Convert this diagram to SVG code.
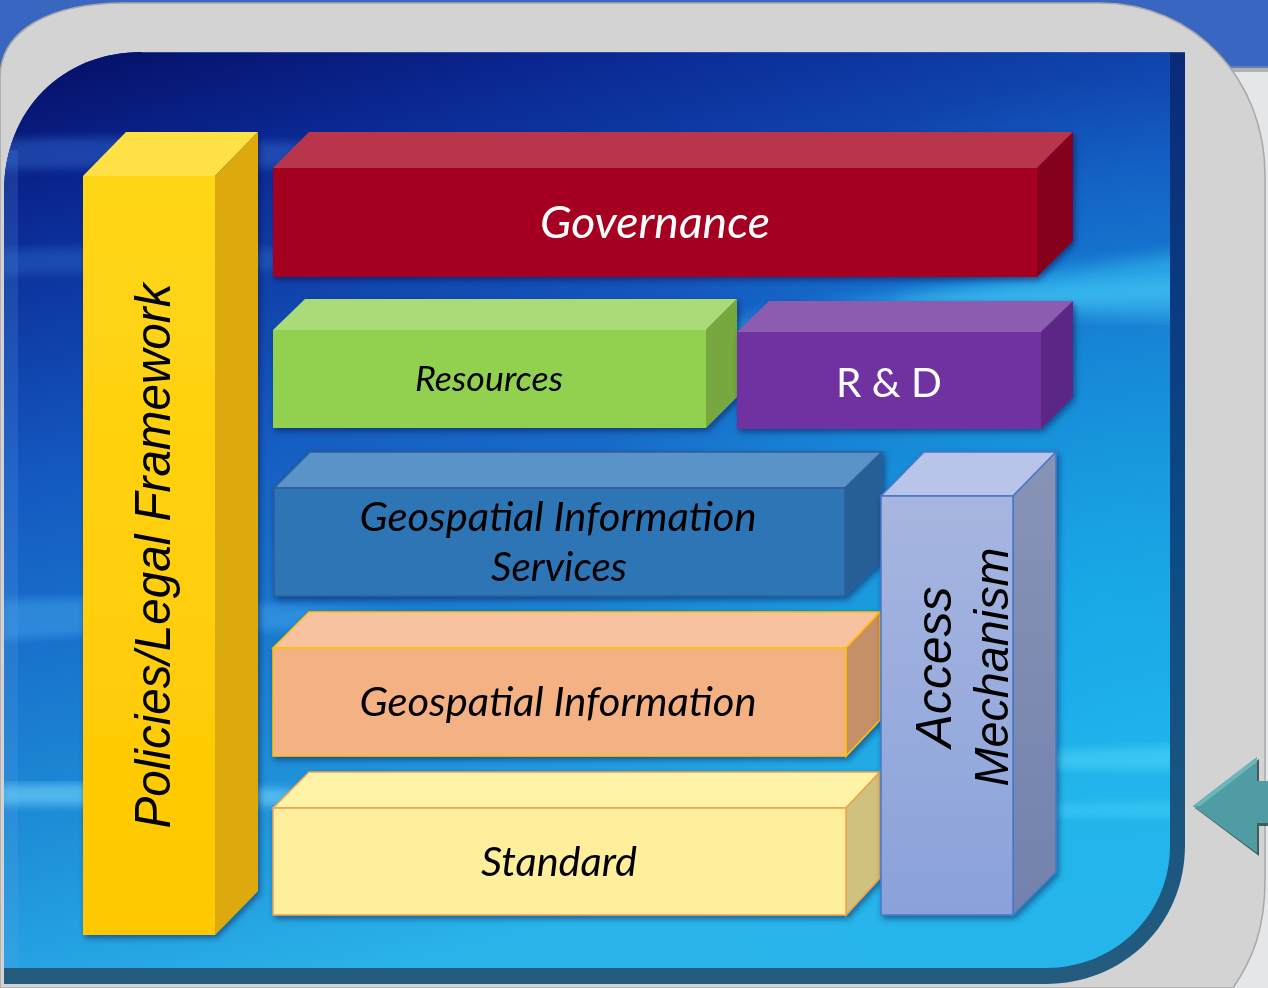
<svg xmlns="http://www.w3.org/2000/svg" width="1268" height="988" viewBox="0 0 1268 988">
<style>
.cal{font-family:Lato,"Open Sans","Noto Sans",sans-serif;font-style:italic;text-anchor:middle}
.ari{font-family:"Liberation Sans",Arial,sans-serif;font-style:italic;text-anchor:middle;fill:#000}
.box{filter:url(#shadow)}
</style>
<defs>
<linearGradient id="panelGrad" x1="0" y1="0" x2="0.35" y2="1">
<stop offset="0" stop-color="#050d62"/>
<stop offset="0.15" stop-color="#0a2690"/>
<stop offset="0.42" stop-color="#1458c0"/>
<stop offset="0.72" stop-color="#1c86d4"/>
<stop offset="1" stop-color="#2ab4ea"/>
</linearGradient>
<radialGradient id="rightGlow" cx="1100" cy="600" r="520" gradientUnits="userSpaceOnUse">
<stop offset="0" stop-color="#12b8f0" stop-opacity="0.55"/>
<stop offset="1" stop-color="#12b8f0" stop-opacity="0"/>
</radialGradient>
<linearGradient id="bevelGrad" x1="0" y1="0" x2="0" y2="1">
<stop offset="0" stop-color="#0a2a78"/>
<stop offset="0.5" stop-color="#0b4a86"/>
<stop offset="1" stop-color="#235c7e"/>
</linearGradient>
<linearGradient id="accFront" x1="0" y1="0" x2="0" y2="1">
<stop offset="0" stop-color="#a7b6e0"/>
<stop offset="1" stop-color="#8aa2da"/>
</linearGradient>
<linearGradient id="accSide" x1="0" y1="0" x2="0" y2="1">
<stop offset="0" stop-color="#8894b6"/>
<stop offset="1" stop-color="#7282ae"/>
</linearGradient>
<linearGradient id="yelFront" x1="0" y1="0" x2="0" y2="1">
<stop offset="0" stop-color="#ffd618"/>
<stop offset="1" stop-color="#ffc800"/>
</linearGradient>
<filter id="shadow" x="-10%" y="-10%" width="130%" height="130%">
<feDropShadow dx="2" dy="3" stdDeviation="3" flood-color="#001030" flood-opacity="0.45"/>
</filter>
<filter id="blur8"><feGaussianBlur stdDeviation="8"/></filter>
<filter id="blur4"><feGaussianBlur stdDeviation="4"/></filter>
<clipPath id="panelClip">
<path d="M4,192 C4,110 62,52 142,52 L1170,52 L1170,845 C1170,915 1115,968 1045,968 L4,968 Z"/>
</clipPath>
</defs>

<!-- outer backdrop -->
<rect x="0" y="0" width="1268" height="988" fill="#3866c0"/>
<rect x="1180" y="68" width="88" height="920" fill="#e4e6e8"/>
<rect x="1180" y="66" width="88" height="6" fill="#8a9098" opacity="0.6"/>
<path d="M0,78 C0,30 50,3 125,3 L1100,3 C1195,3 1265,80 1265,175 L1265,880 C1265,930 1252,960 1233,988 L0,988 Z" fill="#d3d3d3" stroke="#a8a8a8" stroke-width="1.5"/>

<!-- main panel -->
<g id="panel">
<path d="M4,192 C4,110 62,52 142,52 L1185,52 L1185,845 C1185,924 1124,984 1045,984 L4,984 Z" fill="url(#bevelGrad)"/>
<path d="M4,192 C4,110 62,52 142,52 L1170,52 L1170,845 C1170,915 1115,968 1045,968 L4,968 Z" fill="url(#panelGrad)"/>
<g clip-path="url(#panelClip)">
<rect x="0" y="0" width="1268" height="988" fill="url(#rightGlow)"/>
<rect x="4" y="150" width="14" height="818" fill="#6aa8f0" opacity="0.18"/>
<path d="M0,140 C200,130 500,150 900,200 C700,180 300,160 0,170 Z" fill="#3a78e0" opacity="0.4" filter="url(#blur4)"/>
<path d="M0,250 C250,240 500,255 800,280 C500,270 250,268 0,275 Z" fill="#3a80e0" opacity="0.3" filter="url(#blur4)"/>
<path d="M700,330 C850,300 1000,280 1200,250 L1200,300 C1050,300 900,320 700,345 Z" fill="#40d8ff" opacity="0.45" filter="url(#blur8)"/>
<path d="M900,300 C1000,292 1100,285 1200,278 L1200,320 C1100,318 1000,310 900,305 Z" fill="#5ae0ff" opacity="0.35" filter="url(#blur8)"/>
<path d="M0,600 C200,595 400,610 700,640 C400,630 200,625 0,640 Z" fill="#4aa8f0" opacity="0.45" filter="url(#blur4)"/>
<path d="M0,785 C150,780 350,790 600,810 C350,805 150,805 0,805 Z" fill="#7adcff" opacity="0.55" filter="url(#blur4)"/>
<path d="M900,760 C1000,752 1100,750 1200,745 L1200,770 C1100,770 1000,768 900,770 Z" fill="#60e0ff" opacity="0.4" filter="url(#blur4)"/>
<path d="M900,810 C1000,805 1100,805 1200,800 L1200,818 C1100,818 1000,815 900,815 Z" fill="#60e0ff" opacity="0.3" filter="url(#blur4)"/>
</g>
<line x1="142" y1="52.5" x2="1185" y2="52.5" stroke="#3a5ab0" stroke-width="1" opacity="0.7"/>
</g>

<!-- Policies/Legal Framework -->
<g id="policies" class="box">
<rect x="83" y="176" width="132" height="759" fill="url(#yelFront)"/>
<polygon points="83,176 126,132 258,132 215,176" fill="#ffe044"/>
<polygon points="215,176 258,132 258,891 215,935" fill="#dcaa0a"/>
<text class="ari" font-size="50" textLength="545" lengthAdjust="spacingAndGlyphs" transform="translate(170,556) rotate(-90)">Policies/Legal Framework</text>
</g>

<!-- Governance -->
<g id="governance" class="box">
<rect x="273" y="168" width="764" height="109" fill="#a50021"/>
<polygon points="273,168 309,132 1073,132 1037,168" fill="#b8344c"/>
<polygon points="1037,168 1073,132 1073,241 1037,277" fill="#85001c"/>
<text class="cal" x="655" y="238" font-size="44" fill="#fff" textLength="230" lengthAdjust="spacingAndGlyphs">Governance</text>
</g>

<!-- Resources -->
<g id="resources" class="box">
<rect x="273" y="330" width="433" height="98" fill="#92d050"/>
<polygon points="273,330 305,299 737,299 706,330" fill="#a9dc78"/>
<polygon points="706,330 737,299 737,397 706,428" fill="#77a840"/>
<text class="cal" x="489" y="391" font-size="34" fill="#000" textLength="148" lengthAdjust="spacingAndGlyphs">Resources</text>
</g>

<!-- R & D -->
<g id="rnd" class="box">
<rect x="737" y="332" width="304" height="97" fill="#7030a0"/>
<polygon points="737,332 769,301 1073,301 1041,332" fill="#8c5bb2"/>
<polygon points="1041,332 1073,301 1073,397 1041,429" fill="#5b2785"/>
<text x="889" y="397" font-family="Lato,'Open Sans','Noto Sans',sans-serif" font-size="40" fill="#fff" text-anchor="middle" textLength="106" lengthAdjust="spacingAndGlyphs">R &amp; D</text>
</g>

<!-- Geospatial Information Services -->
<g id="gis" class="box">
<polygon points="274,488 310,452 882,452 845,488" fill="#5a93c8" stroke="#2f5d98" stroke-width="1.5"/>
<polygon points="845,488 882,452 882,560 845,596" fill="#265f95" stroke="#2f5d98" stroke-width="1.5"/>
<rect x="274" y="488" width="571" height="108" fill="#2e75b6" stroke="#2f5d98" stroke-width="1.5"/>
<text class="cal" x="558" y="531" font-size="40" fill="#000" textLength="397" lengthAdjust="spacingAndGlyphs">Geospatial Information</text>
<text class="cal" x="559" y="581" font-size="40" fill="#000" textLength="136" lengthAdjust="spacingAndGlyphs">Services</text>
</g>

<!-- Geospatial Information -->
<g id="geoinfo" class="box">
<polygon points="273,648 309,612 880,612 846,648" fill="#f6c29f" stroke="#ffc000" stroke-width="1.5"/>
<polygon points="846,648 880,612 880,720 846,756" fill="#c58f68" stroke="#ffc000" stroke-width="1.5"/>
<rect x="273" y="648" width="573" height="108" fill="#f4b183" stroke="#ffc000" stroke-width="1.5"/>
<text class="cal" x="558" y="716" font-size="40" fill="#000" textLength="397" lengthAdjust="spacingAndGlyphs">Geospatial Information</text>
</g>

<!-- Standard -->
<g id="standard" class="box">
<polygon points="273,808 309,772 880,772 846,808" fill="#fff3a8" stroke="#f0a050" stroke-width="1.5"/>
<polygon points="846,808 880,772 880,878 846,915" fill="#cfc27e" stroke="#f0a050" stroke-width="1.5"/>
<rect x="273" y="808" width="573" height="107" fill="#ffef9c" stroke="#f0a050" stroke-width="1.5"/>
<text class="cal" x="559" y="876" font-size="40" fill="#000" textLength="156" lengthAdjust="spacingAndGlyphs">Standard</text>
</g>

<!-- Access Mechanism -->
<g id="access" class="box">
<polygon points="881,496 924,452 1056,452 1013,496" fill="#b8c5e8" stroke="#4a76c8" stroke-width="1.5"/>
<polygon points="1013,496 1056,452 1056,872 1013,915" fill="url(#accSide)" stroke="#4a76c8" stroke-width="1.5"/>
<rect x="881" y="496" width="132" height="419" fill="url(#accFront)" stroke="#4a76c8" stroke-width="1.5"/>
<text class="ari" font-size="50" transform="translate(951,667) rotate(-90)">Access</text>
<text class="ari" font-size="49" textLength="239" lengthAdjust="spacingAndGlyphs" transform="translate(1008,667) rotate(-90)">Mechanism</text>
</g>

<!-- navigation arrow -->
<g id="nav-arrow">
<polygon points="1195,808 1259,759 1259,783 1268,783 1268,826 1259,826 1259,856" fill="#1f3f44" opacity="0.8"/>
<polygon points="1193,806 1257,757 1257,781 1268,781 1268,823 1257,823 1257,853" fill="#4f9ca2"/>
<polygon points="1193,806 1257,757 1257,762 1200,806" fill="#6cb6bb"/>
</g>
</svg>
